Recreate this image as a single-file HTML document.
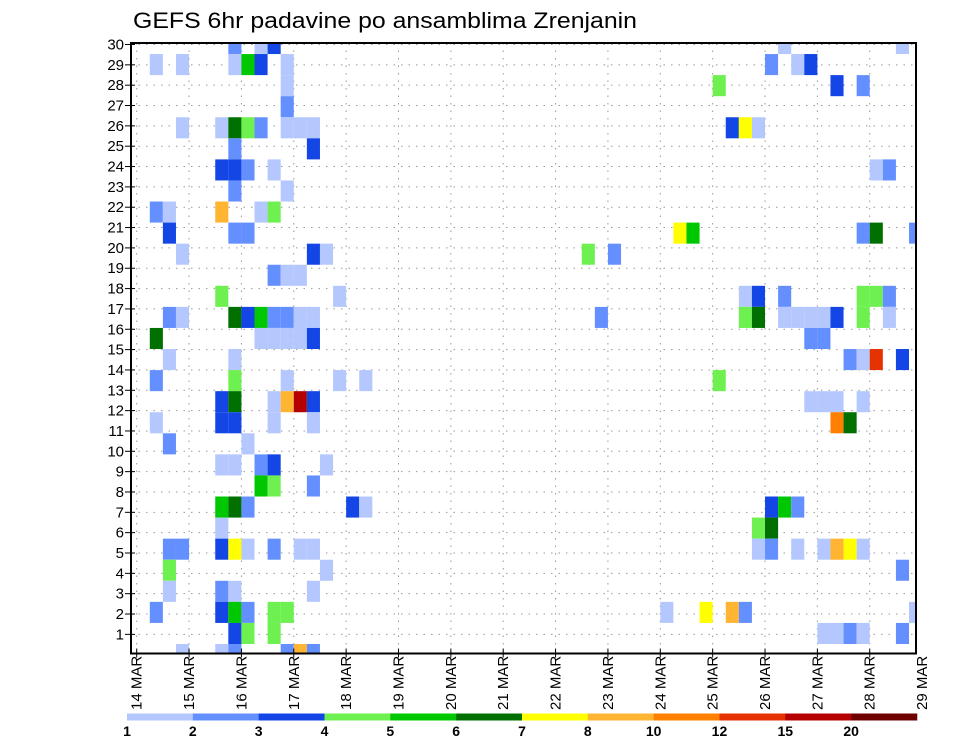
<!DOCTYPE html>
<html><head><meta charset="utf-8">
<style>
html,body{margin:0;padding:0;background:#fff;}
svg{display:block;font-family:"Liberation Sans",sans-serif;}
</style></head>
<body>
<svg id="chart" width="960" height="742" viewBox="0 0 960 742" xmlns="http://www.w3.org/2000/svg">
<text x="133" y="28" font-size="22" fill="#000" textLength="504" lengthAdjust="spacingAndGlyphs">GEFS 6hr padavine po ansamblima Zrenjanin</text>
<g id="grid"></g>
<g id="cells"></g>
<g id="axes"></g>
<g id="cbar"></g>
</svg>
<script>
// ---- data ----
const dayLabels = ["14 MAR","15 MAR","16 MAR","17 MAR","18 MAR","19 MAR","20 MAR","21 MAR","22 MAR","23 MAR","24 MAR","25 MAR","26 MAR","27 MAR","28 MAR","29 MAR"];
const memberTicks = [1,2,3,4,5,6,7,8,9,10,11,12,13,14,15,16,17,18,19,20,21,22,23,24,25,26,27,28,29,30];
const levels = [1,2,3,4,5,6,7,8,10,12,15,20];
const levelColors = ["#b4c8ff","#6490ff","#1446e6","#6ef050","#00c800","#007000","#ffff00","#ffb432","#ff8000","#e63200","#b40000","#700000"];
// cells: 6-hourly step index, member row index, precipitation (mm)
const cellStep = [7,9,10,49,58, 1,3,7,8,9,11,48,50,51, 11,44,53,55, 11, 3,6,7,8,9,11,12,13,45,46,47, 7,13, 6,7,8,10,56,57, 7,11, 1,2,6,9,10, 2,7,8,41,42,55,56,59, 3,13,14,34,36, 10,11,12, 6,15,46,47,49,55,56,57, 2,3,7,8,9,10,11,12,13,35,46,47,49,50,51,52,53,55,57, 1,9,10,11,12,13,51,52, 2,7,54,55,56,58, 1,7,11,15,17,44, 6,7,10,11,12,13,51,52,53,55, 1,6,7,10,13,53,54, 2,8, 6,7,9,10,14, 9,10,13, 6,7,8,16,17,48,49,50, 6,47,48, 2,3,6,7,8,10,12,13,47,48,50,52,53,54,55, 2,14,58, 2,6,7,13, 1,6,7,8,10,11,40,43,45,46,59, 7,8,10,52,53,54,55,58, 3,6,7,11,12,13];
const cellMember = [29,29,29,29,29, 28,28,28,28,28,28,28,28,28, 27,27,27,27, 26, 25,25,25,25,25,25,25,25,25,25,25, 24,24, 23,23,23,23,23,23, 22,22, 21,21,21,21,21, 20,20,20,20,20,20,20,20, 19,19,19,19,19, 18,18,18, 17,17,17,17,17,17,17,17, 16,16,16,16,16,16,16,16,16,16,16,16,16,16,16,16,16,16,16, 15,15,15,15,15,15,15,15, 14,14,14,14,14,14, 13,13,13,13,13,13, 12,12,12,12,12,12,12,12,12,12, 11,11,11,11,11,11,11, 10,10, 9,9,9,9,9, 8,8,8, 7,7,7,7,7,7,7,7, 6,6,6, 5,5,5,5,5,5,5,5,5,5,5,5,5,5,5, 4,4,4, 3,3,3,3, 2,2,2,2,2,2,2,2,2,2,2, 1,1,1,1,1,1,1,1, 0,0,0,0,0,0];
const cellPrecip = [2.5,1.5,3.5,1.5,1.5, 1.5,1.5,1.5,5.5,3.5,1.5,2.5,1.5,3.5, 1.5,4.5,3.5,2.5, 2.5, 1.5,1.5,6.5,4.5,2.5,1.5,1.5,1.5,3.5,7.5,1.5, 2.5,3.5, 3.5,3.5,2.5,1.5,1.5,2.5, 2.5,1.5, 2.5,1.5,9,1.5,4.5, 3.5,2.5,2.5,7.5,5.5,2.5,6.5,2.5, 1.5,3.5,1.5,4.5,2.5, 2.5,1.5,1.5, 4.5,1.5,1.5,3.5,2.5,4.5,4.5,2.5, 2.5,1.5,6.5,3.5,5.5,2.5,2.5,1.5,1.5,2.5,4.5,6.5,1.5,1.5,1.5,1.5,3.5,4.5,1.5, 6.5,1.5,1.5,1.5,1.5,3.5,2.5,2.5, 1.5,1.5,2.5,1.5,13.5,3.5, 2.5,4.5,1.5,1.5,1.5,4.5, 3.5,6.5,1.5,9,17,3.5,1.5,1.5,1.5,1.5, 1.5,3.5,3.5,1.5,1.5,11,6.5, 2.5,1.5, 1.5,1.5,2.5,3.5,1.5, 5.5,4.5,2.5, 5.5,6.5,2.5,3.5,1.5,3.5,5.5,2.5, 1.5,4.5,6.5, 2.5,2.5,3.5,7.5,1.5,2.5,1.5,1.5,1.5,2.5,1.5,1.5,9,7.5,1.5, 4.5,1.5,2.5, 1.5,2.5,1.5,1.5, 2.5,3.5,5.5,2.5,4.5,4.5,1.5,7.5,9,2.5,1.5, 3.5,4.5,4.5,1.5,1.5,2.5,1.5,2.5, 1.5,1.5,2.5,2.5,9,2.5];

// ---- layout ----
const NS = "http://www.w3.org/2000/svg";
const PL = 131, PR = 916, PT = 43, PB = 653.5;
const X0 = 136.7, DAY = 52.36;
const xDay = d => X0 + d * DAY;
const xStep = s => X0 + s * DAY / 4;
const rowTop = m => 644 - 21.07 * m;
const rowH = 21.07;
const yTick = k => 654.7 - 20.34 * k;
function mk(tag, attrs, parent) {
  const e = document.createElementNS(NS, tag);
  for (const k in attrs) e.setAttribute(k, attrs[k]);
  parent.appendChild(e);
  return e;
}
function colorFor(v) {
  let idx = 0;
  for (let i = 0; i < levels.length; i++) if (v >= levels[i]) idx = i;
  return levelColors[idx];
}
const grid = document.getElementById('grid');
const cells = document.getElementById('cells');
const axes = document.getElementById('axes');
const cbar = document.getElementById('cbar');

// grid lines
memberTicks.forEach(k => {
  const y = yTick(k);
  const l = mk('line', {x1: PL, x2: PR, y1: y, y2: y, stroke: '#999', 'stroke-width': 1, 'stroke-dasharray': '1.5,6'}, grid);
  
  
});
dayLabels.forEach((d, i) => {
  const x = xDay(i);
  if (x > PR) return;
  const l = mk('line', {x1: x, x2: x, y1: PT, y2: PB, stroke: '#999', 'stroke-width': 1, 'stroke-dasharray': '1.5,6'}, grid);
  
  
});

// cells
for (let n = 0; n < cellStep.length; n++) {
  let x1 = xStep(cellStep[n]), x2 = xStep(cellStep[n] + 1);
  let y1 = rowTop(cellMember[n]), y2 = y1 + rowH;
  x1 = Math.max(x1, PL); x2 = Math.min(x2, PR);
  y1 = Math.max(y1, PT); y2 = Math.min(y2, PB);
  const r = mk('rect', {x: x1, y: y1, width: x2 - x1, height: y2 - y1, fill: colorFor(cellPrecip[n])}, cells);
  
  
}

// frame
const fr = mk('rect', {x: PL, y: PT, width: PR - PL, height: PB - PT, fill: 'none', stroke: '#000', 'stroke-width': 2}, axes);



// y ticks and labels
memberTicks.forEach(k => {
  const y = yTick(k);
  const t = mk('line', {x1: PL - 6, x2: PL + 4, y1: y, y2: y, stroke: '#000', 'stroke-width': 1}, axes);
  
  
  const tx = mk('text', {x: 124, y: y + 5, 'text-anchor': 'end', 'font-size': 15, fill: '#000'}, axes);
  tx.textContent = k;
  
  
});

// x ticks and labels
dayLabels.forEach((d, i) => {
  const x = xDay(i);
  if (x <= PR) {
    const t = mk('line', {x1: x, x2: x, y1: PB - 5, y2: PB + 4, stroke: '#000', 'stroke-width': 1}, axes);
    
    
  }
  const tx = mk('text', {x: 0, y: 0, 'font-size': 15, fill: '#000', transform: 'translate(' + (x + 5) + ',710) rotate(-90)'}, axes);
  tx.textContent = d;
  
  
});

// color bar
const CB0 = 127, CBW = 65.83, CBY = 713.5, CBH = 7;
levels.forEach((lv, i) => {
  const r = mk('rect', {x: CB0 + i * CBW, y: CBY, width: CBW + 0.3, height: CBH, fill: levelColors[i]}, cbar);
  
  
  const tx = mk('text', {x: CB0 + i * CBW, y: 736, 'text-anchor': 'middle', 'font-size': 14, 'font-weight': 'bold', fill: '#000'}, cbar);
  tx.textContent = lv;
  
  
});
</script>
</body></html>
